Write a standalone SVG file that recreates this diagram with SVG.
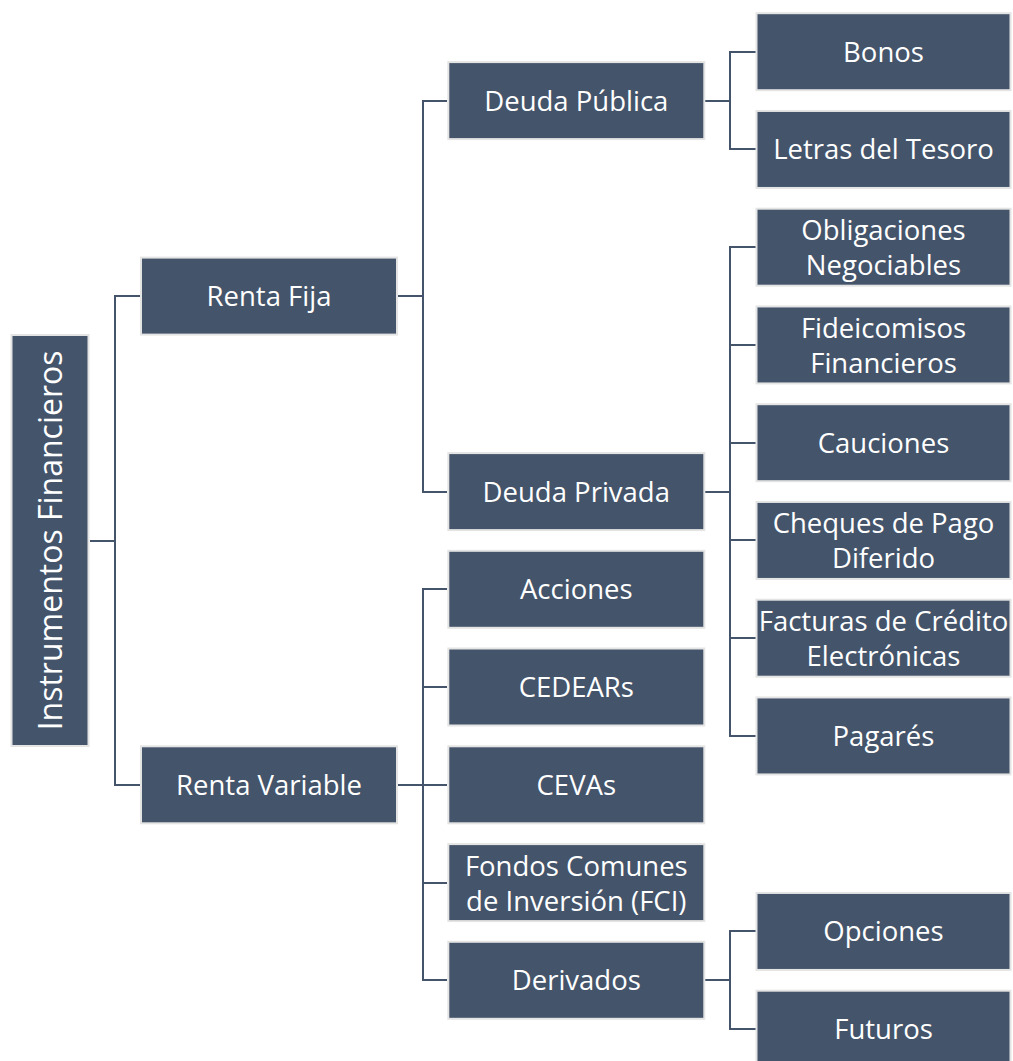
<svg xmlns="http://www.w3.org/2000/svg" width="1013" height="1061" viewBox="0 0 1013 1061">
<style>
.box{fill:#44546A;stroke:#E4E4E4;stroke-width:2}
.t{fill:#FFFFFF;font-family:"Open Sans","Noto Sans","Liberation Sans",sans-serif;font-size:27.5px;text-anchor:middle}
.root{font-size:32px}
.c{fill:none;stroke:#44546A;stroke-width:2;stroke-linejoin:miter}
</style>
<rect width="1013" height="1061" fill="#FFFFFF"/>
<g id="connectors">
<path class="c" d="M90,541 H115"/>
<path class="c" d="M140,296 H115 V785 H140"/>
<path class="c" d="M398,296 H423"/>
<path class="c" d="M447,101 H423 V492 H447"/>
<path class="c" d="M398,785 H447"/>
<path class="c" d="M447,589 H423 V980 H447"/>
<path class="c" d="M423,687 H447 M423,883 H447"/>
<path class="c" d="M705,101 H730"/>
<path class="c" d="M756,52 H730 V149 H756"/>
<path class="c" d="M705,492 H730"/>
<path class="c" d="M756,247 H730 V736 H756"/>
<path class="c" d="M730,345 H756 M730,443 H756 M730,540 H756 M730,638 H756"/>
<path class="c" d="M705,980 H730"/>
<path class="c" d="M756,931 H730 V1029 H756"/>
</g>
<g id="n-root"><rect class="box" x="11.5" y="335" width="77" height="411"/><text class="t root" transform="translate(50,540.4) rotate(-90)" y="11.5">Instrumentos Financieros</text></g>
<g id="n-renta-fija"><rect class="box" x="141" y="257.6" width="256" height="77"/><text class="t" x="269" y="306.1">Renta Fija</text></g>
<g id="n-renta-variable"><rect class="box" x="141" y="746.3" width="256" height="77"/><text class="t" x="269" y="794.8">Renta Variable</text></g>
<g id="n-deuda-publica"><rect class="box" x="448.3" y="62.1" width="256" height="77"/><text class="t" x="576.3" y="110.6">Deuda Pública</text></g>
<g id="n-deuda-privada"><rect class="box" x="448.3" y="453.1" width="256" height="77"/><text class="t" x="576.3" y="501.6">Deuda Privada</text></g>
<g id="n-acciones"><rect class="box" x="448.3" y="550.8" width="256" height="77"/><text class="t" x="576.3" y="599.3">Acciones</text></g>
<g id="n-cedears"><rect class="box" x="448.3" y="648.5" width="256" height="77"/><text class="t" x="576.3" y="697">CEDEARs</text></g>
<g id="n-cevas"><rect class="box" x="448.3" y="746.3" width="256" height="77"/><text class="t" x="576.3" y="794.8">CEVAs</text></g>
<g id="n-fci"><rect class="box" x="448.3" y="844.1" width="256" height="77"/><text class="t" x="576.3" y="875.6">Fondos Comunes</text><text class="t" x="576.3" y="910.6">de Inversión (FCI)</text></g>
<g id="n-derivados"><rect class="box" x="448.3" y="941.8" width="256" height="77"/><text class="t" x="576.3" y="990.3">Derivados</text></g>
<g id="n-bonos"><rect class="box" x="756.5" y="13.2" width="254" height="77"/><text class="t" x="883.5" y="61.7">Bonos</text></g>
<g id="n-letras"><rect class="box" x="756.5" y="110.95" width="254" height="77"/><text class="t" x="883.5" y="159.45">Letras del Tesoro</text></g>
<g id="n-obligaciones"><rect class="box" x="756.5" y="208.7" width="254" height="77"/><text class="t" x="883.5" y="240.2">Obligaciones</text><text class="t" x="883.5" y="275.2">Negociables</text></g>
<g id="n-fideicomisos"><rect class="box" x="756.5" y="306.45" width="254" height="77"/><text class="t" x="883.5" y="337.95">Fideicomisos</text><text class="t" x="883.5" y="372.95">Financieros</text></g>
<g id="n-cauciones"><rect class="box" x="756.5" y="404.2" width="254" height="77"/><text class="t" x="883.5" y="452.7">Cauciones</text></g>
<g id="n-cheques"><rect class="box" x="756.5" y="501.95" width="254" height="77"/><text class="t" x="883.5" y="533.45">Cheques de Pago</text><text class="t" x="883.5" y="568.45">Diferido</text></g>
<g id="n-facturas"><rect class="box" x="756.5" y="599.7" width="254" height="77"/><text class="t" x="883.5" y="631.2">Facturas de Crédito</text><text class="t" x="883.5" y="666.2">Electrónicas</text></g>
<g id="n-pagares"><rect class="box" x="756.5" y="697.45" width="254" height="77"/><text class="t" x="883.5" y="745.95">Pagarés</text></g>
<g id="n-opciones"><rect class="box" x="756.5" y="892.95" width="254" height="77"/><text class="t" x="883.5" y="941.45">Opciones</text></g>
<g id="n-futuros"><rect class="box" x="756.5" y="990.7" width="254" height="77"/><text class="t" x="883.5" y="1039.2">Futuros</text></g>
</svg>
